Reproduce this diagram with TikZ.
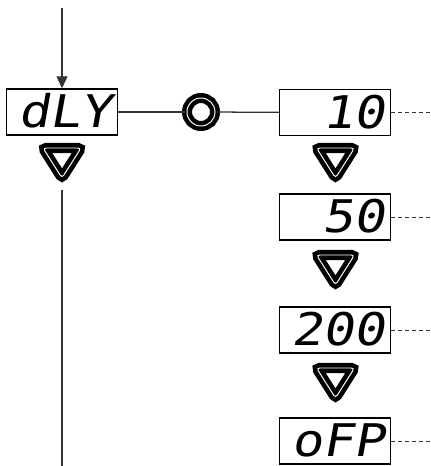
\documentclass[tikz,border=0pt]{standalone}
\usepackage{fontspec}
\usetikzlibrary{arrows.meta, calc}
\newfontfamily\lcdfont[FakeStretch=1.15, FakeSlant=0.18]{DejaVu Sans Mono}

\begin{document}
\begin{tikzpicture}[x=0.025cm, y=-0.025cm,
        lcd/.style={draw=black, line width=1.05pt, minimum width=2.775cm, minimum height=1.15cm,
            inner xsep=0.15cm, inner ysep=0pt, text width=2.475cm, align=right,
            text height=0.85cm, text depth=0.06cm,
            font=\lcdfont\fontsize{32}{32}\selectfont},
        conn/.style={draw=black!80, line width=0.9pt},
        dots/.style={draw=black!80, line width=0.7pt, dash pattern=on 2.8pt off 2.1pt},
        key/.style={draw=black, double=white, line width=3.3pt, double distance=0.7pt,
            rounded corners=0.08cm},
        okkey/.style={circle, draw=black, double=white, line width=3.2pt, double distance=0.7pt,
            minimum size=0.7cm, inner sep=0pt}]
    \useasboundingbox (0,0) rectangle (430,466);

    % displays
    \node[lcd] (dly) at (62,112) {dLY};
    \node[lcd] (v10) at (335,112.5) {10};
    \node[lcd] (v50) at (335,217) {50};
    \node[lcd] (v200) at (335,330) {200};
    \node[lcd] (vofp) at (335,441) {oFP};

    % enter key
    \node[okkey] (ok) at (201,112) {};

    \coordinate (in) at (62,8);
    \coordinate (exit) at (62,190);
    \coordinate (foot) at (62,466);
    \coordinate (rim) at (430,0);

    \draw[conn, -{Triangle[length=8.5pt, width=7.8pt]}] (in) -- (dly);
    \draw[conn] (exit) -- (foot);
    \draw[conn] (dly) -- (ok);
    \draw[conn] (ok) -- (v10);

    \foreach \n in {v10, v50, v200, vofp}
        \draw[dots] (\n.east) -- (\n.east -| rim);

    % down keys
    \foreach \tx/\ty in {62/162, 335.5/162, 335.5/269, 335.5/382}
        \draw[key] (\tx-19,\ty-14) -- (\tx+19,\ty-14) -- (\tx,\ty+16) -- cycle;
\end{tikzpicture}
\end{document}
